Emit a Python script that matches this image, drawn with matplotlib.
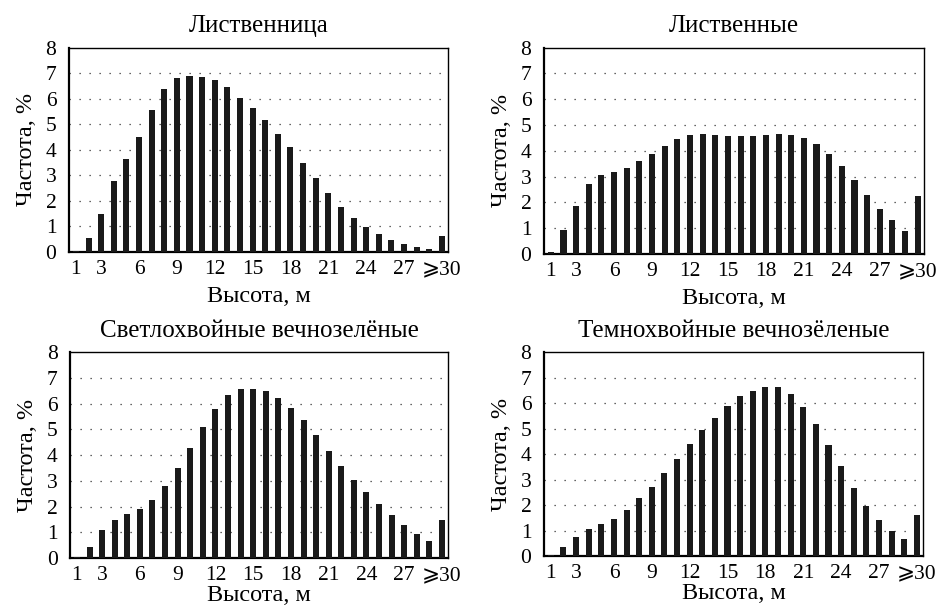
import numpy as np
import matplotlib
matplotlib.use("Agg")
import matplotlib.pyplot as plt

plt.rcParams["font.family"] = ["Liberation Serif", "DejaVu Serif", "DejaVu Sans"]

heights = list(range(1, 31))
tick_pos = [1, 3, 6, 9, 12, 15, 18, 21, 24, 27, 30]
tick_labels = ["1", "3", "6", "9", "12", "15", "18", "21", "24", "27", "⩾30"]

titles = [
    "Лиственница",
    "Лиственные",
    "Светлохвойные вечнозелёные",
    "Темнохвойные вечнозёленые",
]

larch = [0.05, 0.55, 1.5, 2.8, 3.65, 4.5, 5.55, 6.4, 6.8, 6.9,
         6.85, 6.72, 6.45, 6.05, 5.65, 5.17, 4.62, 4.1, 3.5, 2.9,
         2.3, 1.78, 1.33, 0.98, 0.71, 0.49, 0.3, 0.21, 0.13, 0.62]
deciduous = [0.08, 0.94, 1.87, 2.72, 3.07, 3.16, 3.35, 3.6, 3.87, 4.18,
             4.45, 4.62, 4.66, 4.62, 4.58, 4.58, 4.58, 4.62, 4.66, 4.62,
             4.48, 4.27, 3.87, 3.4, 2.86, 2.28, 1.74, 1.3, 0.9, 2.24]
light_conif = [0.05, 0.45, 1.08, 1.48, 1.7, 1.91, 2.26, 2.8, 3.5, 4.26,
               5.1, 5.8, 6.32, 6.58, 6.58, 6.5, 6.23, 5.83, 5.36, 4.78,
               4.16, 3.58, 3.05, 2.57, 2.09, 1.69, 1.3, 0.95, 0.68, 1.48]
dark_conif = [0.03, 0.36, 0.76, 1.06, 1.26, 1.47, 1.82, 2.26, 2.72, 3.26,
              3.8, 4.41, 4.95, 5.44, 5.88, 6.28, 6.5, 6.63, 6.63, 6.37,
              5.84, 5.18, 4.37, 3.53, 2.68, 1.96, 1.43, 0.98, 0.67, 1.6]

series = [larch, deciduous, light_conif, dark_conif]

fig = plt.figure(figsize=(9.41, 6.08), dpi=100)
boxes = [
    (0.0733, 0.5855, 0.403, 0.336),
    (0.578, 0.5825, 0.404, 0.339),
    (0.0744, 0.082, 0.402, 0.339),
    (0.578, 0.0855, 0.403, 0.335),
]
xlabel_pads = [5, 5, 0, 0]

for box, title, vals, lp in zip(boxes, titles, series, xlabel_pads):
    ax = fig.add_axes(box)
    ax.bar(heights, vals, width=0.48, color="#1a1a1a", zorder=3)
    ax.set_xlim(0.45, 30.5)
    ax.set_ylim(0, 8)
    ax.set_yticks(range(0, 9))
    ax.set_xticks(tick_pos)
    ax.set_xticklabels(tick_labels)
    ax.tick_params(axis="both", length=0, labelsize=15.5)
    ax.tick_params(axis="y", pad=9)
    ax.tick_params(axis="x", pad=6)
    for y in range(1, 8):
        ax.axhline(y, color="#333333", lw=0.9, linestyle=(0, (1, 7)), zorder=1)
    for side in ["top", "right"]:
        ax.spines[side].set_linewidth(1.0)
    for side in ["left", "bottom"]:
        ax.spines[side].set_linewidth(1.6)
    ax.set_title(title, fontsize=18, pad=11)
    ax.set_xlabel("Высота, м", fontsize=17.5, labelpad=lp)
    ax.set_ylabel("Частота, %", fontsize=17.5, labelpad=6)

fig.savefig("out.png", dpi=100)
